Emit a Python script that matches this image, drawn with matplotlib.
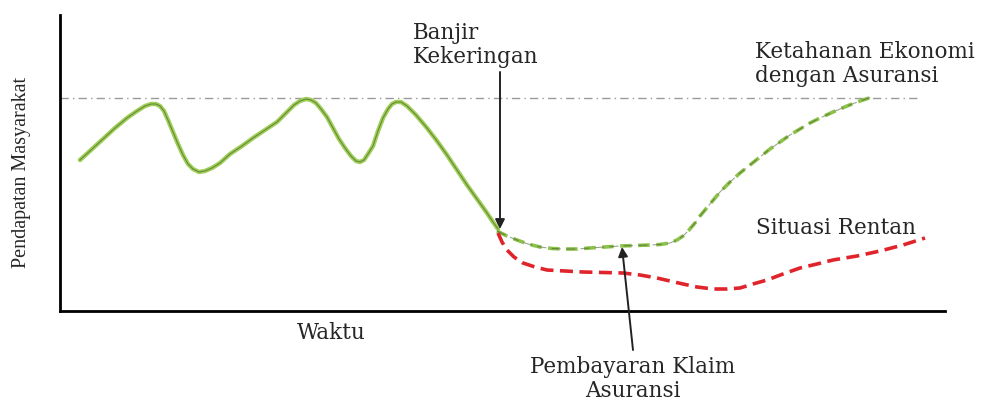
import matplotlib
matplotlib.use("Agg")
import matplotlib.pyplot as plt

# time axis (waktu) and income (pendapatan)
waktu_awal = [20, 31, 43, 55, 67, 77, 85, 91, 96, 100, 104, 108, 113, 118, 123, 128, 133,
              139, 145, 152, 160, 170, 182, 193, 205, 217, 227, 234, 240, 246, 251, 256,
              261, 267, 273, 279, 285, 291, 296, 300, 304, 308, 313, 318, 323, 328, 332,
              336, 341, 347, 356, 367, 377, 387, 397, 407, 417, 427, 433, 438]
pendapatan_awal = [151, 161, 172, 183, 193, 200, 205, 207, 207, 205, 200, 191, 179, 167,
                   156, 147, 142, 139, 140, 143, 148, 157, 165, 173, 181, 189, 199, 206,
                   210, 212, 211, 208, 202, 194, 183, 172, 163, 155, 150, 149, 151, 157,
                   165, 180, 193, 202, 207, 209, 209, 205, 196, 183, 170, 156, 141, 126,
                   112, 98, 89, 82]

waktu_asuransi = [437, 447, 457, 468, 480, 492, 503, 517, 530, 545, 560, 575, 590, 600,
                  610, 617, 623, 629, 635, 640, 650, 660, 670, 680, 690, 700, 710, 720,
                  730, 740, 750, 760, 773, 787, 800, 812]
pendapatan_asuransi = [80, 75, 71, 67, 64, 62.5, 62, 62, 63, 64, 65, 65.5, 66, 66.5, 68,
                       71, 75, 81, 88, 95, 107, 119, 129, 138, 146, 154, 162, 169, 176,
                       182, 188, 193, 199, 205, 210, 214]

waktu_rentan = [438, 442, 447, 454, 463, 475, 487, 505, 523, 543, 563, 580, 597, 610, 623,
                637, 653, 667, 680, 693, 707, 723, 740, 757, 773, 797, 820, 843, 865]
pendapatan_rentan = [78, 69, 61, 54, 48, 44, 41, 40, 39, 38.5, 38, 36, 33, 30, 27, 24, 22,
                     22, 23, 27, 31, 37, 43, 47, 51, 55, 60, 66, 73]

batas_atas = 213          # dash-dot reference level
batas_x = [0, 858]

plt.rcParams['font.family'] = ['DejaVu Serif']

fig = plt.figure(figsize=(9.89, 4.01), dpi=100)
ax = fig.add_axes([60 / 989, 90 / 401, 885 / 989, 296 / 401])
ax.set_xlim(0, 885)
ax.set_ylim(0, 296)

for s in ['top', 'right']:
    ax.spines[s].set_visible(False)
ax.spines['left'].set_linewidth(2)
ax.spines['bottom'].set_linewidth(2)
ax.set_xticks([])
ax.set_yticks([])

ax.plot(batas_x, [batas_atas, batas_atas], color='#9a9a9a', lw=1.0,
        dashes=(6, 3, 1, 3))

# solid part before the shock
ax.plot(waktu_awal, pendapatan_awal, color='#9fd057', lw=3.2, solid_capstyle='round',
        solid_joinstyle='round')
ax.plot(waktu_awal, pendapatan_awal, color='#3d4a25', lw=0.8, alpha=0.55,
        solid_joinstyle='round')

# recovery with insurance
ax.plot(waktu_asuransi, pendapatan_asuransi, color='#8cc24a', lw=2.6, dashes=(3.2, 1.8))
ax.plot(waktu_asuransi, pendapatan_asuransi, color='#3d4a25', lw=0.8, alpha=0.5,
        dashes=(8.3, 4.7))

# vulnerable situation
ax.plot(waktu_rentan, pendapatan_rentan, color='#e0242c', lw=2.6, dashes=(3.6, 1.8))

teks = '#262626'
ax.annotate('', xy=(440, 82), xytext=(440, 239),
            arrowprops=dict(arrowstyle='-|>', color='#222222', lw=1.4, mutation_scale=14,
                            shrinkA=0, shrinkB=0))
ax.annotate('', xy=(562, 64), xytext=(573, -39), annotation_clip=False,
            arrowprops=dict(arrowstyle='-|>', color='#222222', lw=1.4, mutation_scale=14,
                            shrinkA=0, shrinkB=0))

fs = 15.5
ax.text(353, 266, 'Banjir\nKekeringan', fontsize=fs, color=teks, ha='left', va='center',
        linespacing=1.12)
ax.text(695, 247, 'Ketahanan Ekonomi\ndengan Asuransi', fontsize=fs, color=teks,
        ha='left', va='center', linespacing=1.12)
ax.text(696, 83, 'Situasi Rentan', fontsize=fs, color=teks, ha='left', va='center')
ax.text(573, -68, 'Pembayaran Klaim\nAsuransi', fontsize=fs, color=teks, ha='center',
        va='center', multialignment='center', linespacing=1.12)
ax.text(237, -22, 'Waktu', fontsize=fs, color=teks, ha='left', va='center')

fig.text(22 / 989, 1 - 172 / 401, 'Pendapatan Masyarakat', rotation=90, fontsize=14.5,
         family='Liberation Serif', color=teks, ha='center', va='center')

fig.savefig('out.png', dpi=100, facecolor='white')
